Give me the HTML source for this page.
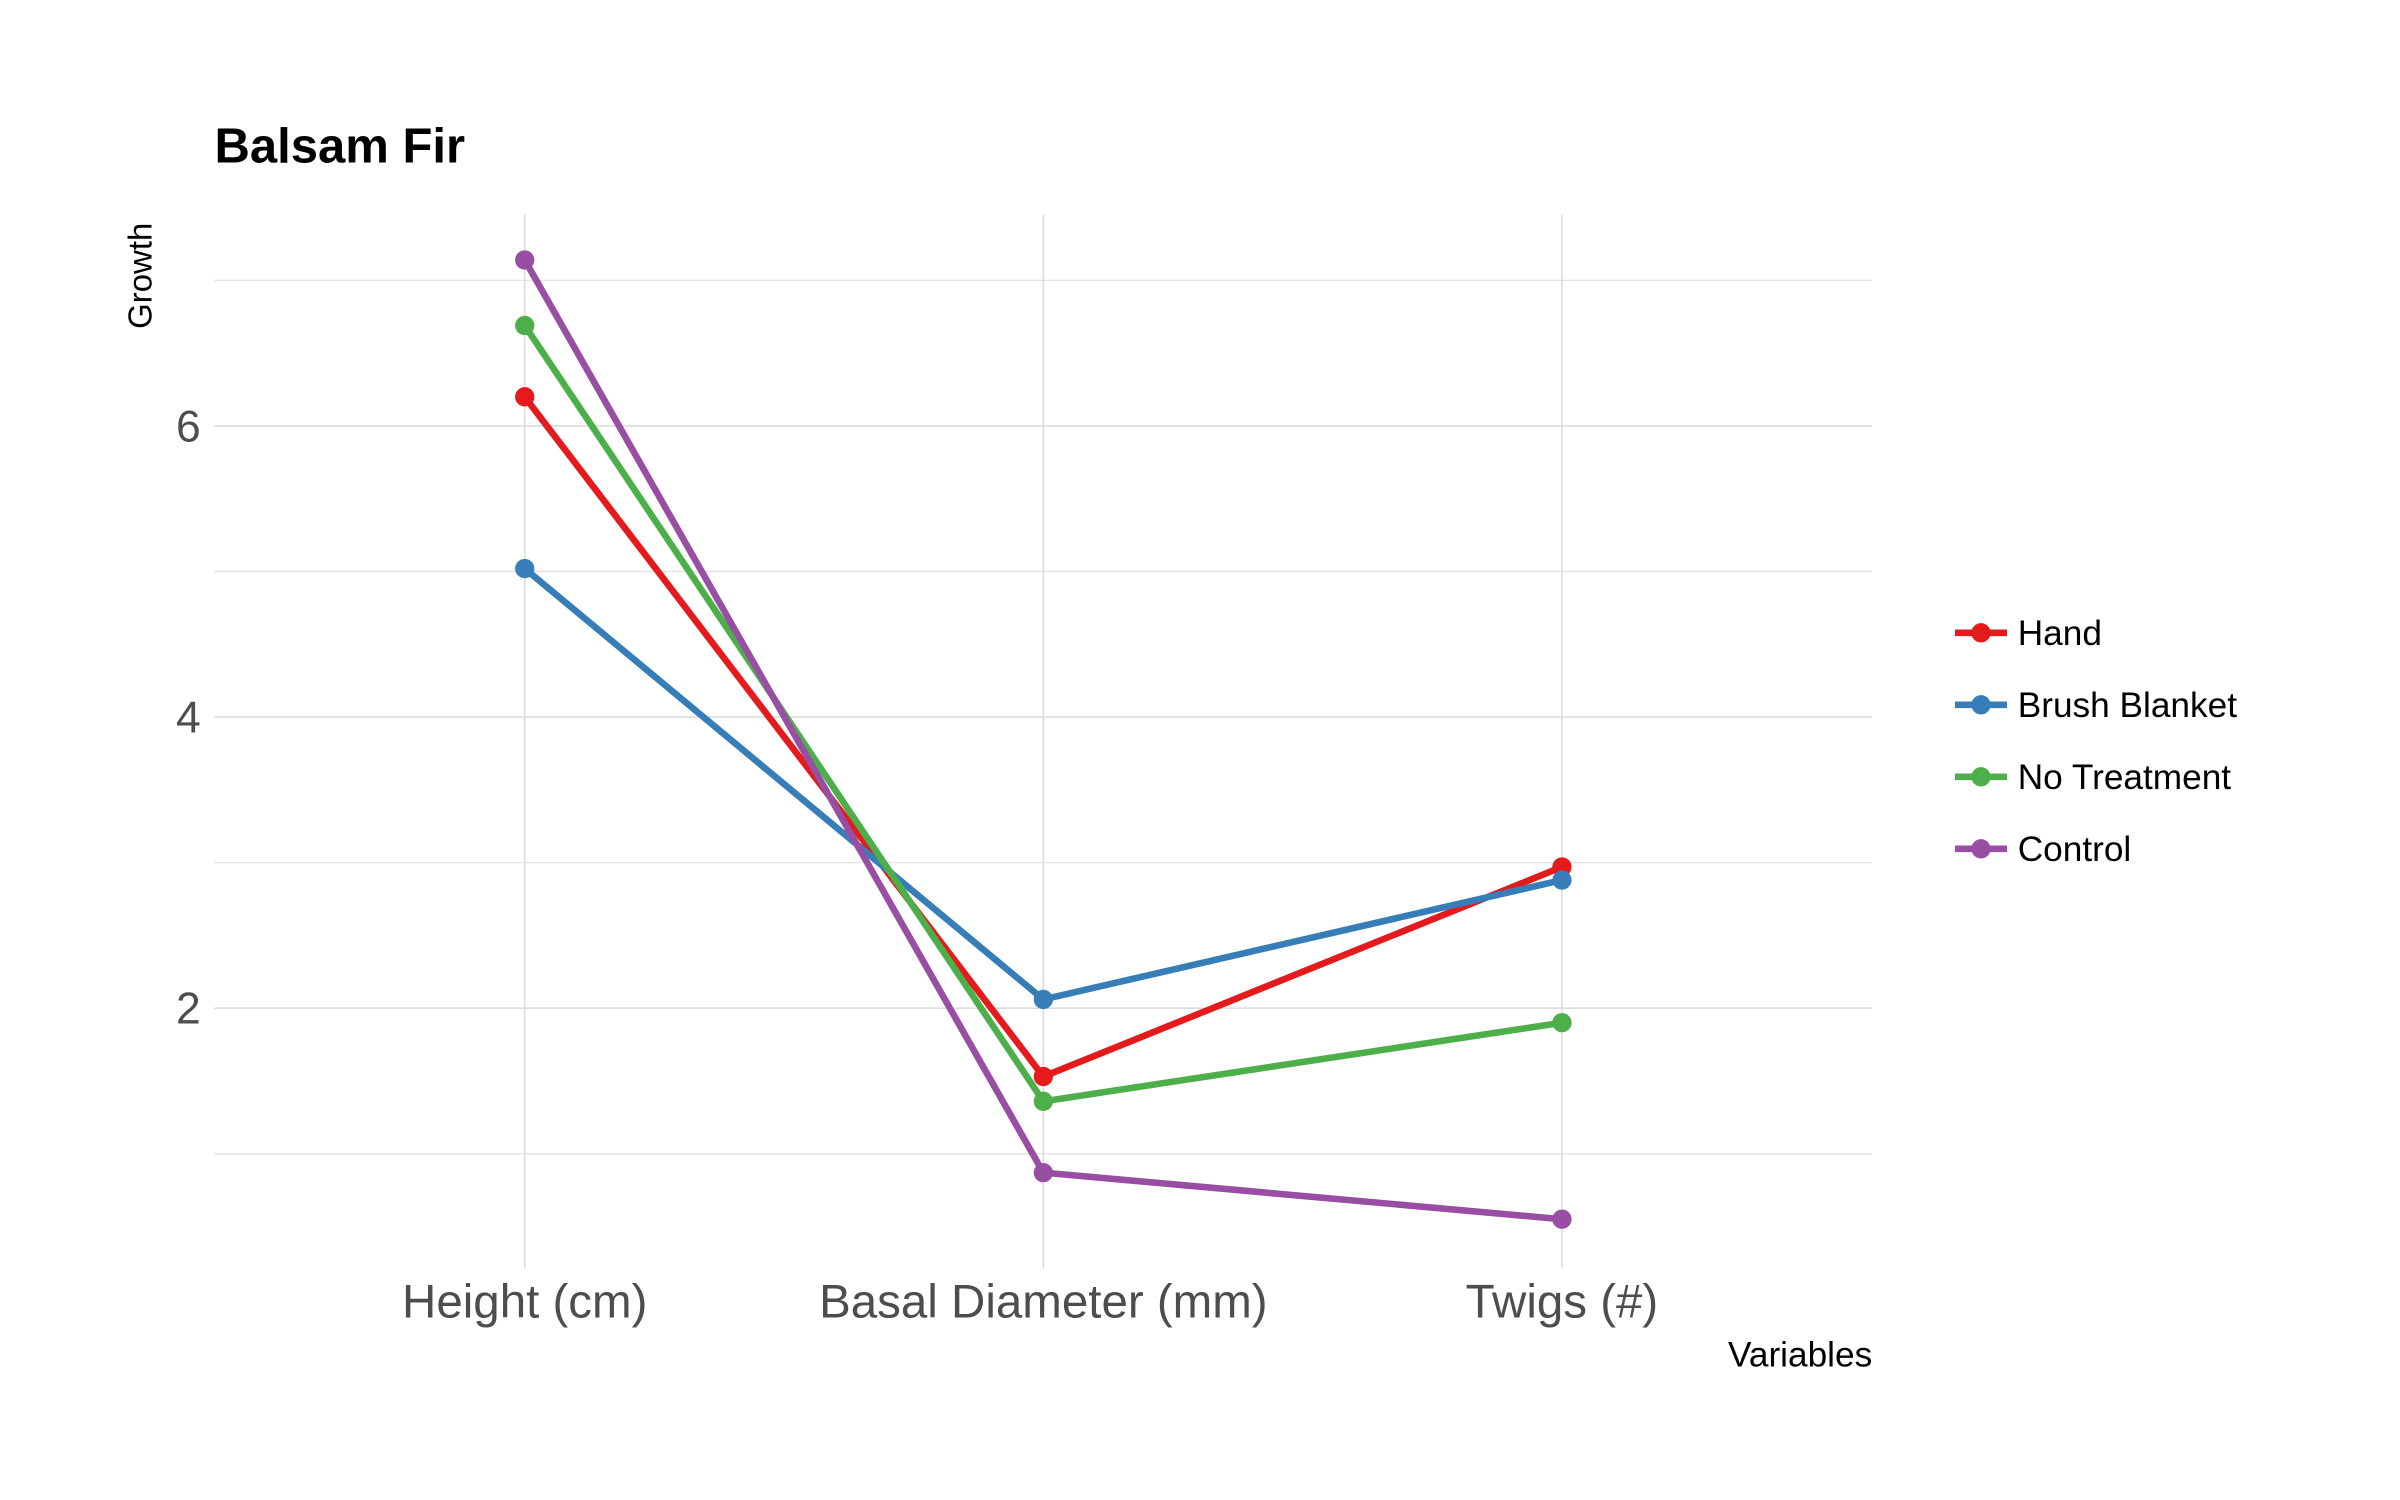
<!DOCTYPE html>
<html><head><meta charset="utf-8"><style>
html,body{margin:0;padding:0;background:#fff;}
svg{display:block;}
text{font-family:"Liberation Sans",Arial,sans-serif;}
</style></head><body>
<svg id="chart" width="2400" height="1500" viewBox="0 0 1566.5 979" preserveAspectRatio="none" xmlns="http://www.w3.org/2000/svg">
<rect width="1566.5" height="979" fill="#fff"/>
<g id="grid"></g>
<g id="series"></g>
<text x="140" y="106" font-size="32" font-weight="bold" fill="#000">Balsam Fir</text>
<text transform="translate(99,180) rotate(-90)" text-anchor="middle" font-size="21.5" fill="#000">Growth</text>
<text x="1222" y="892" text-anchor="end" font-size="23" fill="#000">Variables</text>
<g id="legend"></g>
</svg>
<script>
const categories = ["Height (cm)", "Basal Diameter (mm)", "Twigs (#)"];
const seriesNames = ["Hand", "Brush Blanket", "No Treatment", "Control"];
const hand = [6.2, 1.53, 2.97];
const brushBlanket = [5.02, 2.06, 2.88];
const noTreatment = [6.69, 1.36, 1.9];
const control = [7.14, 0.87, 0.55];
const yTicks = [2, 4, 6];
const yMinor = [1, 3, 5, 7];
const colors = ["#e41a1c", "#377eb8", "#4daf4a", "#984ea3"];
const allSeries = [hand, brushBlanket, noTreatment, control];

const NS = "http://www.w3.org/2000/svg";
const panelL = 140, panelR = 1222, panelT = 140, panelB = 828;
function xs(i){ return 342.5 + i * 338.5; }
function ys(v){ return 658 - (v - 2) * 95; }
function mk(tag, attrs, parent){ const e = document.createElementNS(NS, tag); for (const k in attrs) e.setAttribute(k, attrs[k]); parent.appendChild(e); return e; }

const grid = document.getElementById('grid');
yMinor.forEach(v => {
  const l = mk('line', {x1: panelL, x2: panelR, y1: ys(v), y2: ys(v), stroke: '#e3e3e3', 'stroke-width': 0.9}, grid);
  
  
});
yTicks.forEach(v => {
  const l = mk('line', {x1: panelL, x2: panelR, y1: ys(v), y2: ys(v), stroke: '#dcdcdc', 'stroke-width': 1}, grid);
  
  
  const t = mk('text', {x: 131, y: ys(v) + 10, 'text-anchor': 'end', 'font-size': 29, fill: '#4d4d4d'}, grid);
  t.textContent = v;
  
  
});
categories.forEach((c, i) => {
  const l = mk('line', {x1: xs(i), x2: xs(i), y1: panelT, y2: panelB, stroke: '#dcdcdc', 'stroke-width': 1}, grid);
  
  
  const t = mk('text', {x: xs(i), y: 860, 'text-anchor': 'middle', 'font-size': 31, fill: '#4d4d4d'}, grid);
  t.textContent = c;
  
  
});

const sg = document.getElementById('series');
allSeries.forEach((vals, s) => {
  const pts = vals.map((v, i) => xs(i) + ',' + ys(v)).join(' ');
  const pl = mk('polyline', {points: pts, fill: 'none', stroke: colors[s], 'stroke-width': 4.3, 'stroke-linejoin': 'round'}, sg);
  
  
  vals.forEach((v, i) => {
    const c = mk('circle', {cx: xs(i), cy: ys(v), r: 6.3, fill: colors[s]}, sg);
    
    
  });
});

const lg = document.getElementById('legend');
seriesNames.forEach((n, s) => {
  const y = 413 + s * 47;
  const l = mk('line', {x1: 1276, x2: 1310, y1: y, y2: y, stroke: colors[s], 'stroke-width': 4.3}, lg);
  
  
  const c = mk('circle', {cx: 1293, cy: y, r: 6.3, fill: colors[s]}, lg);
  
  
  const t = mk('text', {x: 1317, y: y + 8, 'font-size': 23, fill: '#000'}, lg);
  t.textContent = n;
  
  
});
</script>
</body></html>
